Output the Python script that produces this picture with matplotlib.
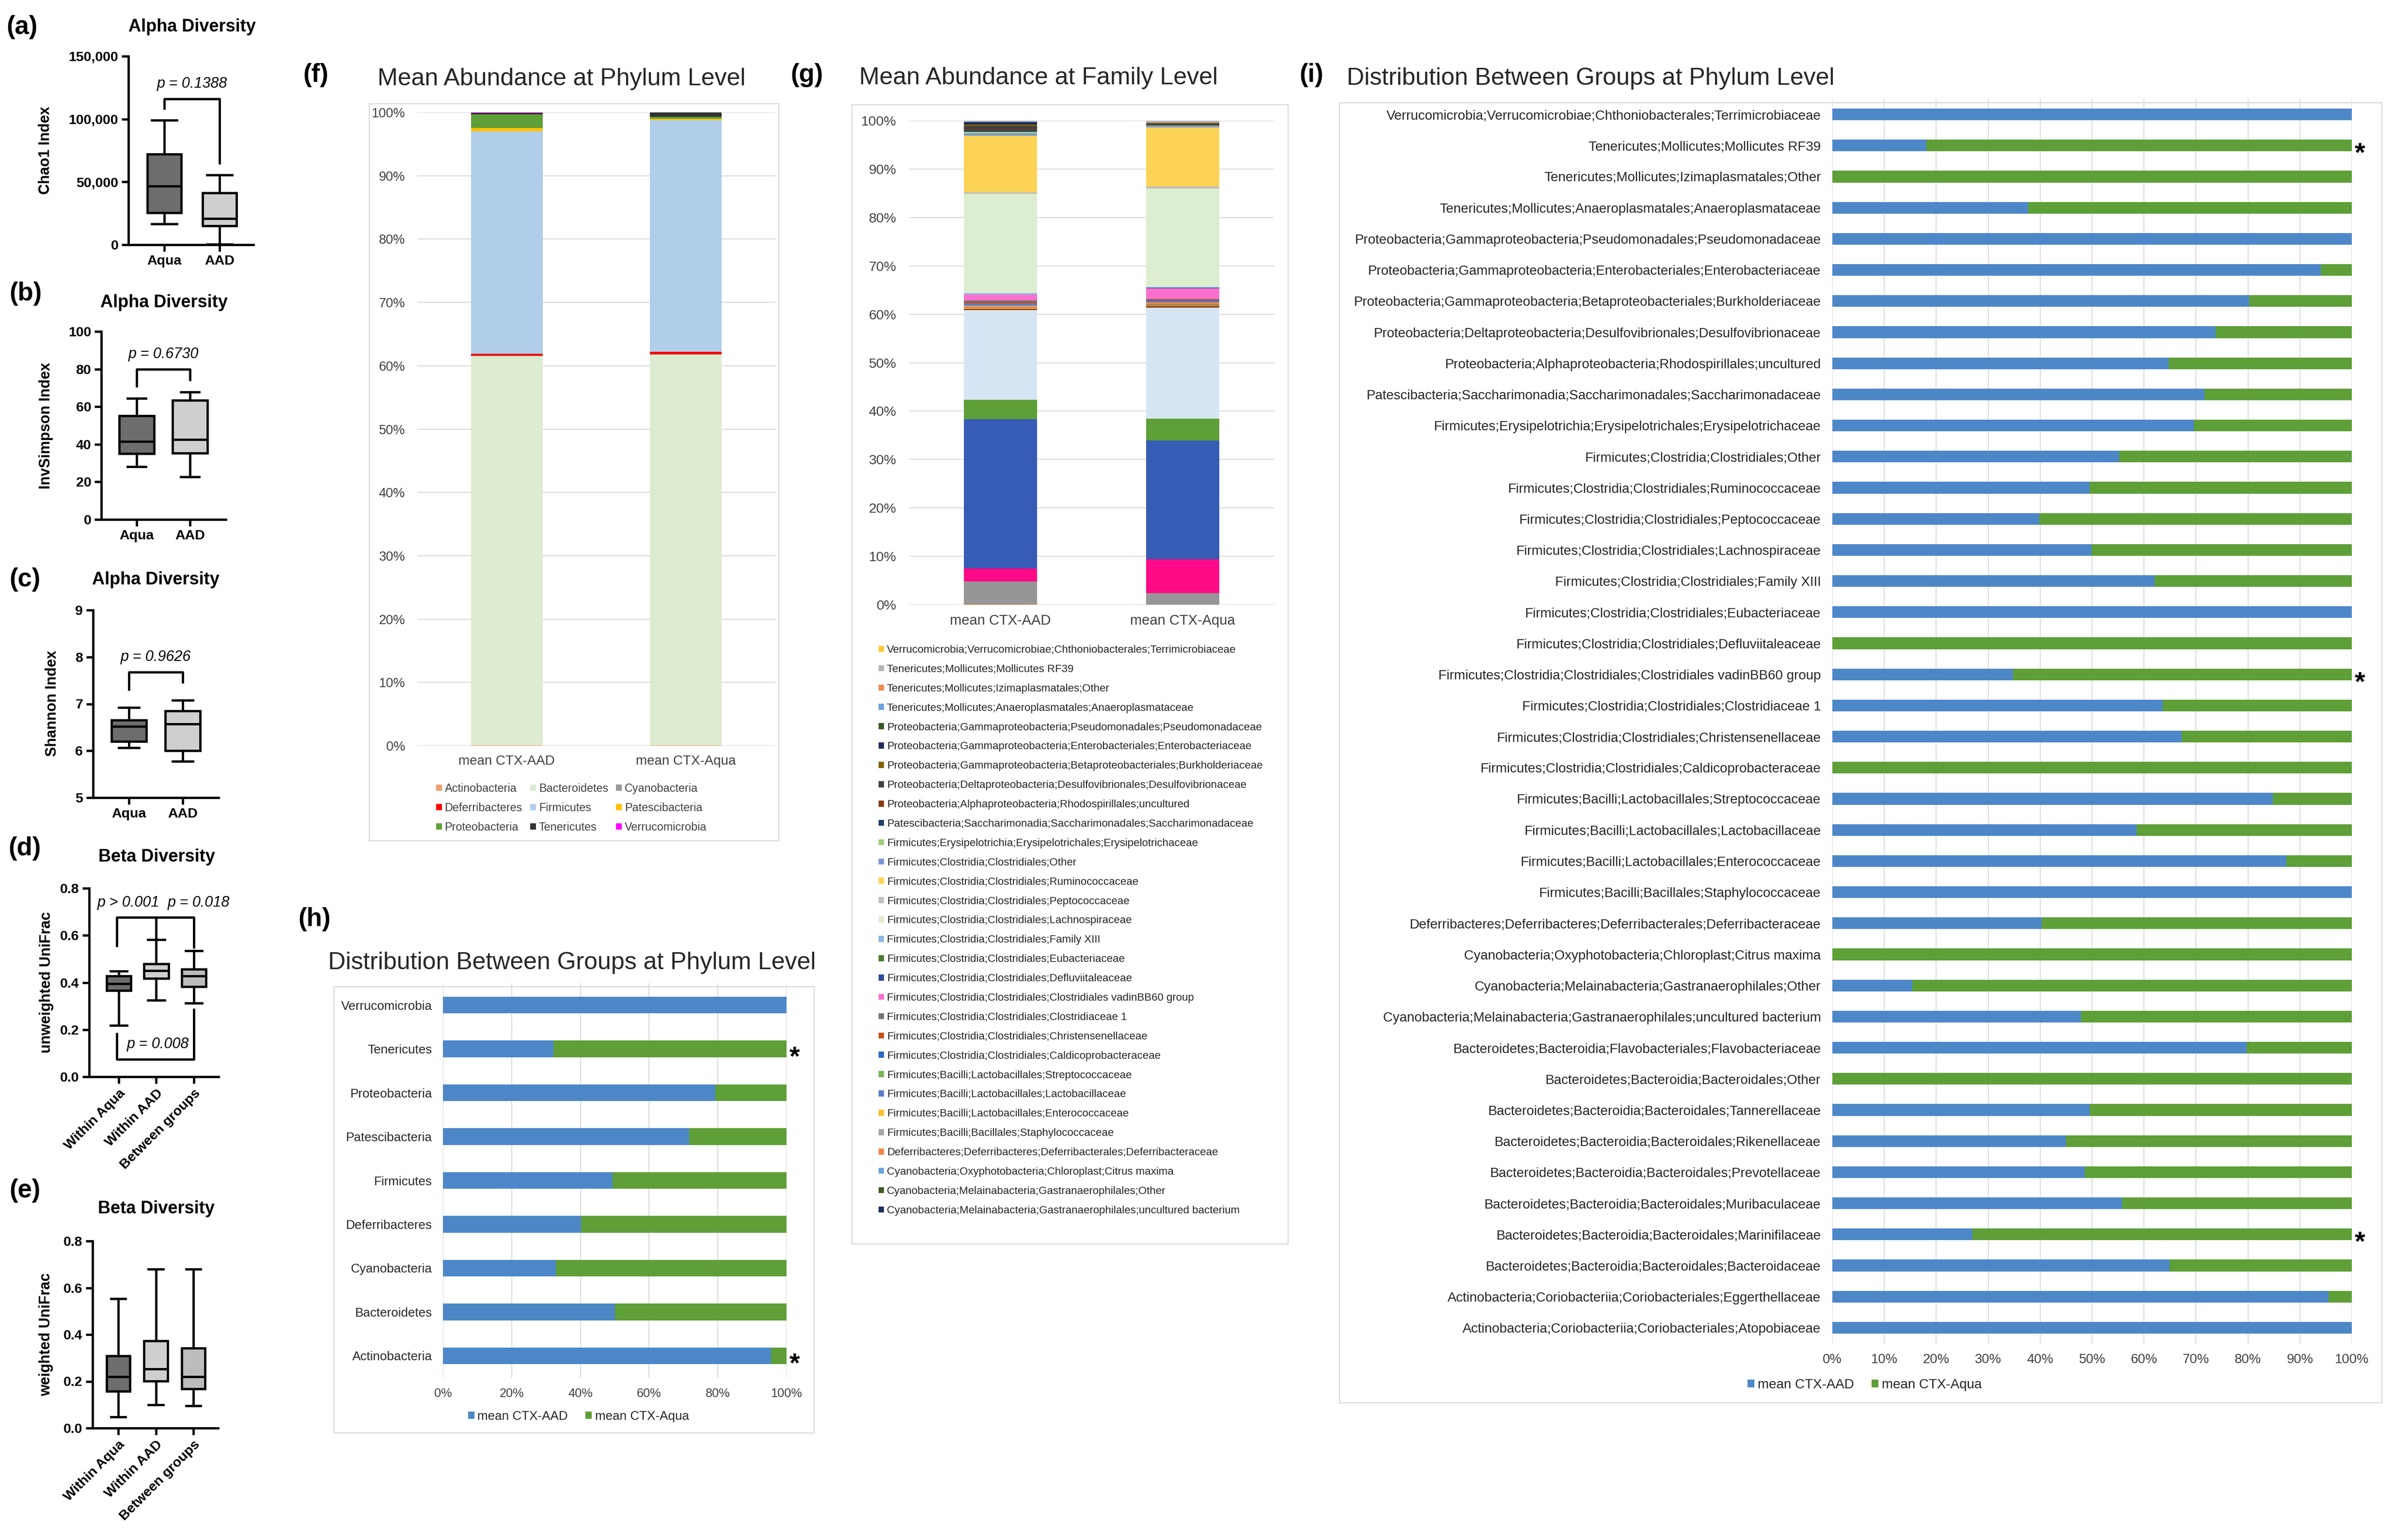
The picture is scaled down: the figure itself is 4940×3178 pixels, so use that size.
import numpy as np
import matplotlib
matplotlib.use("Agg")
import matplotlib.pyplot as plt
from matplotlib.patches import Rectangle

plt.rcParams['font.family'] = ['Liberation Sans', 'DejaVu Sans']

# ---------------------------------------------------------------
# data: alpha / beta diversity box plots (a-e)
# ---------------------------------------------------------------
alpha_groups = ['Aqua', 'AAD']
beta_groups = ['Within Aqua', 'Within AAD', 'Between groups']

# whislo, q1, median, q3, whishi
chao1 = [[16400, 25500, 46700, 72200, 99000],
         [500, 15000, 20700, 41300, 55500]]
invsimpson = [[28.2, 35.0, 41.4, 55.2, 64.5],
              [22.7, 35.3, 42.5, 63.3, 67.9]]
shannon = [[6.06, 6.20, 6.52, 6.65, 6.92],
           [5.78, 6.00, 6.57, 6.85, 7.08]]
unweighted = [[0.218, 0.366, 0.395, 0.428, 0.448],
              [0.324, 0.417, 0.451, 0.479, 0.582],
              [0.313, 0.383, 0.428, 0.457, 0.535]]
weighted = [[0.048, 0.157, 0.219, 0.309, 0.554],
            [0.100, 0.202, 0.252, 0.373, 0.679],
            [0.095, 0.167, 0.219, 0.342, 0.679]]

p_chao1 = 'p = 0.1388'
p_invsimpson = 'p = 0.6730'
p_shannon = 'p = 0.9626'
p_unw = ['p > 0.001', 'p = 0.018', 'p = 0.008']

# ---------------------------------------------------------------
# data: mean abundance at phylum level (f)
# ---------------------------------------------------------------
groups = ['mean CTX-AAD', 'mean CTX-Aqua']
phyla = ['Actinobacteria', 'Bacteroidetes', 'Cyanobacteria', 'Deferribacteres',
         'Firmicutes', 'Patescibacteria', 'Proteobacteria', 'Tenericutes',
         'Verrucomicrobia']
phylum_aad = [0.05, 61.5, 0.05, 0.3, 35.15, 0.5, 2.15, 0.25, 0.05]
phylum_aqua = [0.05, 61.7, 0.05, 0.4, 36.6, 0.2, 0.3, 0.7, 0.0]
phylum_colors = ['#f0a070', '#ddebd0', '#9a9a9a', '#ff0000', '#b0cde9',
                 '#ffc000', '#5e9f37', '#333333', '#ff00ff']

# ---------------------------------------------------------------
# data: families (g, i) -- listed top to bottom as in panel (i)
# ---------------------------------------------------------------
families = [
    'Verrucomicrobia;Verrucomicrobiae;Chthoniobacterales;Terrimicrobiaceae',
    'Tenericutes;Mollicutes;Mollicutes RF39',
    'Tenericutes;Mollicutes;Izimaplasmatales;Other',
    'Tenericutes;Mollicutes;Anaeroplasmatales;Anaeroplasmataceae',
    'Proteobacteria;Gammaproteobacteria;Pseudomonadales;Pseudomonadaceae',
    'Proteobacteria;Gammaproteobacteria;Enterobacteriales;Enterobacteriaceae',
    'Proteobacteria;Gammaproteobacteria;Betaproteobacteriales;Burkholderiaceae',
    'Proteobacteria;Deltaproteobacteria;Desulfovibrionales;Desulfovibrionaceae',
    'Proteobacteria;Alphaproteobacteria;Rhodospirillales;uncultured',
    'Patescibacteria;Saccharimonadia;Saccharimonadales;Saccharimonadaceae',
    'Firmicutes;Erysipelotrichia;Erysipelotrichales;Erysipelotrichaceae',
    'Firmicutes;Clostridia;Clostridiales;Other',
    'Firmicutes;Clostridia;Clostridiales;Ruminococcaceae',
    'Firmicutes;Clostridia;Clostridiales;Peptococcaceae',
    'Firmicutes;Clostridia;Clostridiales;Lachnospiraceae',
    'Firmicutes;Clostridia;Clostridiales;Family XIII',
    'Firmicutes;Clostridia;Clostridiales;Eubacteriaceae',
    'Firmicutes;Clostridia;Clostridiales;Defluviitaleaceae',
    'Firmicutes;Clostridia;Clostridiales;Clostridiales vadinBB60 group',
    'Firmicutes;Clostridia;Clostridiales;Clostridiaceae 1',
    'Firmicutes;Clostridia;Clostridiales;Christensenellaceae',
    'Firmicutes;Clostridia;Clostridiales;Caldicoprobacteraceae',
    'Firmicutes;Bacilli;Lactobacillales;Streptococcaceae',
    'Firmicutes;Bacilli;Lactobacillales;Lactobacillaceae',
    'Firmicutes;Bacilli;Lactobacillales;Enterococcaceae',
    'Firmicutes;Bacilli;Bacillales;Staphylococcaceae',
    'Deferribacteres;Deferribacteres;Deferribacterales;Deferribacteraceae',
    'Cyanobacteria;Oxyphotobacteria;Chloroplast;Citrus maxima',
    'Cyanobacteria;Melainabacteria;Gastranaerophilales;Other',
    'Cyanobacteria;Melainabacteria;Gastranaerophilales;uncultured bacterium',
    'Bacteroidetes;Bacteroidia;Flavobacteriales;Flavobacteriaceae',
    'Bacteroidetes;Bacteroidia;Bacteroidales;Other',
    'Bacteroidetes;Bacteroidia;Bacteroidales;Tannerellaceae',
    'Bacteroidetes;Bacteroidia;Bacteroidales;Rikenellaceae',
    'Bacteroidetes;Bacteroidia;Bacteroidales;Prevotellaceae',
    'Bacteroidetes;Bacteroidia;Bacteroidales;Muribaculaceae',
    'Bacteroidetes;Bacteroidia;Bacteroidales;Marinifilaceae',
    'Bacteroidetes;Bacteroidia;Bacteroidales;Bacteroidaceae',
    'Actinobacteria;Coriobacteriia;Coriobacteriales;Eggerthellaceae',
    'Actinobacteria;Coriobacteriia;Coriobacteriales;Atopobiaceae',
]
family_colors = [
    '#fcc62f', '#b4b4b4', '#ef8a4c', '#6fa0d8', '#375623', '#1f2d5c',
    '#7f6000', '#404040', '#843c0c', '#1f3f66', '#9fcf80', '#7b97d3',
    '#fdd357', '#c0c0c0', '#ddedd0', '#8db4e2', '#4a7a2d', '#2f4a9a',
    '#fb6fcf', '#747474', '#c4501a', '#2a6ac0', '#79b458', '#5a7dc8',
    '#fbbf2a', '#a6a6a6', '#ee8449', '#6ba3dc', '#3b5b24', '#1f2f5e',
    '#ffd966', '#636363', '#9e480e', '#d6e5f4', '#5e9f37', '#365cb5',
    '#ff0a87', '#969696', '#ed7d31', '#4472c4',
]
# mean relative abundance (%) for panel (g)
family_aad = [0.05, 0.12, 0.0, 0.1, 0.05, 0.5, 0.3, 0.7, 0.2, 0.3, 0.3, 0.5,
              11.7, 0.27, 20.5, 0.3, 0.05, 0.0, 1.2, 0.25, 0.35, 0.0, 0.03, 0.5,
              0.1, 0.02, 0.3, 0.0, 0.02, 0.05, 0.04, 0.0, 0.3, 18.6, 4.0, 30.75,
              2.7, 4.7, 0.1, 0.05]
family_aqua = [0.0, 0.4, 0.05, 0.12, 0.0, 0.04, 0.08, 0.2, 0.11, 0.12, 0.1, 0.3,
               12.2, 0.4, 20.3, 0.18, 0.0, 0.1, 2.2, 0.14, 0.17, 0.05, 0.005, 0.35,
               0.015, 0.0, 0.44, 0.02, 0.11, 0.055, 0.01, 0.1, 0.3, 23.0, 4.5, 24.5,
               7.0, 2.4, 0.005, 0.0]
# share between groups (%) for panel (i)
family_share_aad = [100, 18.1, 0, 37.7, 100, 94.0, 80.2, 73.8, 64.7, 71.6, 69.6,
                    55.2, 49.5, 39.8, 49.9, 62.0, 100, 0, 34.8, 63.6, 67.3, 0,
                    84.8, 58.6, 87.4, 100, 40.3, 0, 15.4, 47.9, 79.8, 0, 49.5,
                    45.0, 48.6, 55.8, 27.0, 64.9, 95.5, 100]
family_share_aqua = [0, 81.9, 100, 62.3, 0, 6.0, 19.8, 26.2, 35.3, 28.4, 30.4,
                     44.8, 50.5, 60.2, 50.1, 38.0, 0, 100, 65.2, 36.4, 32.7, 100,
                     15.2, 41.4, 12.6, 0, 59.7, 100, 84.6, 52.1, 20.2, 100, 50.5,
                     55.0, 51.4, 44.2, 73.0, 35.1, 4.5, 0]
family_stars = [1, 18, 36]

# ---------------------------------------------------------------
# data: share between groups at phylum level (h)
# ---------------------------------------------------------------
phyla_h = ['Verrucomicrobia', 'Tenericutes', 'Proteobacteria', 'Patescibacteria',
           'Firmicutes', 'Deferribacteres', 'Cyanobacteria', 'Bacteroidetes',
           'Actinobacteria']
share_aad_h = [100, 32.2, 79.3, 71.6, 49.4, 40.2, 32.8, 50.0, 95.5]
share_aqua_h = [0, 67.8, 20.7, 28.4, 50.6, 59.8, 67.2, 50.0, 4.5]
stars_h = [1, 8]

BLUE = '#4d87c8'
GREEN = '#5e9f37'
GRID = '#d9d9d9'
TXT = '#404040'

# ===============================================================
W, H = 4940, 3178
fig = plt.figure(figsize=(W / 100, H / 100), dpi=100)


def px_axes(x0, y0, x1, y1):
    return fig.add_axes([x0 / W, 1 - y1 / H, (x1 - x0) / W, (y1 - y0) / H])


def ftext(x, y, s, **kw):
    return fig.text(x / W, 1 - y / H, s, **kw)


def frame(x0, y0, x1, y1):
    fig.add_artist(Rectangle((x0 / W, 1 - y1 / H), (x1 - x0) / W, (y1 - y0) / H,
                             transform=fig.transFigure, fill=False,
                             edgecolor=GRID, lw=1.6))


LW = 3.4


def prism_box(box, data, labels, colors, xlim, ylim, yticks, yfmt, bw, cw, rotate=False):
    ax = px_axes(*box)
    stats = [dict(whislo=d[0], q1=d[1], med=d[2], q3=d[3], whishi=d[4], fliers=[])
             for d in data]
    bp = ax.bxp(stats, positions=range(len(data)), widths=bw, capwidths=cw,
                patch_artist=True, showfliers=False, manage_ticks=False,
                boxprops=dict(linewidth=LW, edgecolor='black'),
                medianprops=dict(color='black', linewidth=LW, solid_capstyle='butt'),
                whiskerprops=dict(linewidth=LW, color='black'),
                capprops=dict(linewidth=LW, color='black'))
    for patch, c in zip(bp['boxes'], colors):
        patch.set_facecolor(c)
    ax.set_xlim(*xlim)
    ax.set_ylim(*ylim)
    ax.set_yticks(yticks, [yfmt(v) for v in yticks])
    if rotate:
        ax.set_xticks(range(len(labels)), labels, rotation=45, ha='right',
                      rotation_mode='anchor')
    else:
        ax.set_xticks(range(len(labels)), labels)
    for s in ['top', 'right']:
        ax.spines[s].set_visible(False)
    for s in ['left', 'bottom']:
        ax.spines[s].set_linewidth(LW)
    ax.tick_params(length=10, width=LW, labelsize=20.5, pad=5)
    for t in ax.get_xticklabels() + ax.get_yticklabels():
        t.set_fontweight('bold')
    return ax


def bracket(ax, xs, ys, top):
    ax.plot([xs[0], xs[0], xs[1], xs[1]], [ys[0], top, top, ys[1]],
            color='black', lw=LW, solid_capstyle='butt', clip_on=False)


DARK, LIGHT, MID = '#6d6d6d', '#cfcfd1', '#bcbcbc'
PFONT = dict(fontsize=22, style='italic', ha='center', va='center')

# (a)
ax = prism_box((265, 116, 523, 505), chao1, alpha_groups, [DARK, LIGHT],
               (-0.649, 1.614), (0, 150000), [0, 50000, 100000, 150000],
               lambda v: f'{v:,}', 0.614, 0.45)
bracket(ax, (0, 1), (107500, 64000), 116000)
ax.text(0.5, 128000, p_chao1, **PFONT)

# (b)
ax = prism_box((209, 684, 466, 1072), invsimpson, alpha_groups, [DARK, LIGHT],
               (-0.664, 1.673), (0, 100), [0, 20, 40, 60, 80, 100],
               lambda v: f'{v}', 0.65, 0.34)
bracket(ax, (0, 1), (70.3, 73.7), 79.8)
ax.text(0.5, 88, p_invsimpson, **PFONT)

# (c)
ax = prism_box((192, 1259, 451, 1646), shannon, alpha_groups, [DARK, LIGHT],
               (-0.667, 1.667), (5, 9), [5, 6, 7, 8, 9],
               lambda v: f'{v}', 0.65, 0.38)
bracket(ax, (0, 1), (7.28, 7.44), 7.68)
ax.text(0.5, 8.0, p_shannon, **PFONT)

# (d)
ax = prism_box((184, 1833, 451, 2222), unweighted, beta_groups, [DARK, LIGHT, MID],
               (-0.787, 2.658), (0, 0.8), [0.0, 0.2, 0.4, 0.6, 0.8],
               lambda v: f'{v:.1f}', 0.65, 0.45, rotate=True)
bracket(ax, (-0.05, 2), (0.552, 0.545), 0.676)
ax.plot([1, 1], [0.676, 0.582], color='black', lw=LW, solid_capstyle='butt')
bracket(ax, (-0.05, 2), (0.188, 0.291), 0.074)
ax.text(0.26, 0.738, p_unw[0], **PFONT)
ax.text(2.13, 0.738, p_unw[1], **PFONT)
ax.text(1.04, 0.138, p_unw[2], **PFONT)

# (e)
ax = prism_box((191, 2561, 450, 2947), weighted, beta_groups, [DARK, LIGHT, MID],
               (-0.684, 2.658), (0, 0.8), [0.0, 0.2, 0.4, 0.6, 0.8],
               lambda v: f'{v:.1f}', 0.63, 0.39, rotate=True)

# titles, y labels, panel letters of the box plots
TB = dict(fontsize=26, fontweight='bold', ha='center', va='baseline')
ftext(396, 65, 'Alpha Diversity', **TB)
ftext(338, 634, 'Alpha Diversity', **TB)
ftext(321, 1206, 'Alpha Diversity', **TB)
ftext(323, 1778, 'Beta Diversity', **TB)
ftext(322, 2504, 'Beta Diversity', **TB)
YB = dict(fontsize=22, fontweight='bold', rotation=90, ha='center', va='center')
ftext(94, 310, 'Chao1 Index', **YB)
ftext(95, 878, 'InvSimpson Index', **YB)
ftext(108, 1452, 'Shannon Index', **YB)
ftext(96, 2027, 'unweighted UniFrac', **YB)
ftext(95, 2754, 'weighted UniFrac', **YB)
LB = dict(fontsize=38, fontweight='bold', ha='left', va='baseline')
for lt, x, y in [('(a)', 13, 70), ('(b)', 19, 620), ('(c)', 19, 1210),
                 ('(d)', 17, 1765), ('(e)', 19, 2471), ('(f)', 625, 169),
                 ('(g)', 1631, 169), ('(h)', 615, 1911), ('(i)', 2681, 169)]:
    ftext(x, y, lt, **LB)


# ---------------------------------------------------------------
def excel_style(ax, axis):
    for s in ax.spines.values():
        s.set_visible(False)
    ax.grid(axis=axis, color=GRID, lw=1.4)
    ax.set_axisbelow(True)
    ax.tick_params(length=0, labelcolor=TXT)


TT = dict(fontsize=36, color='#262626', ha='left', va='baseline')

# (f) mean abundance, phylum
frame(762, 214, 1607, 1735)
ftext(779, 176, 'Mean Abundance at Phylum Level', **TT)
ax = px_axes(861, 232, 1600, 1539)
bottom = np.zeros(2)
handles = []
for name, a, q, c in zip(phyla, phylum_aad, phylum_aqua, phylum_colors):
    handles.append(ax.bar([0, 1], [a, q], bottom=bottom, width=0.4, color=c, label=name))
    bottom += [a, q]
ax.set_xlim(-0.5, 1.5)
ax.set_ylim(0, 100)
ax.set_yticks(range(0, 101, 10), [f'{v}%' for v in range(0, 101, 10)])
ax.set_xticks([0, 1], groups)
excel_style(ax, 'y')
ax.tick_params(axis='y', labelsize=19.5, pad=18)
ax.tick_params(axis='x', labelsize=20, pad=14)
order = [0, 3, 6, 1, 4, 7, 2, 5, 8]
leg = ax.legend([handles[i] for i in order], [phyla[i] for i in order], ncol=3,
                loc='upper left', bbox_to_anchor=(900 / W, 1 - 1616 / H),
                bbox_transform=fig.transFigure, frameon=False, fontsize=16.8,
                handlelength=0.5, handleheight=0.5, handletextpad=0.25,
                columnspacing=0.7, labelspacing=0.73, borderpad=0, borderaxespad=0)
for t in leg.get_texts():
    t.set_color(TXT)

# (g) mean abundance, family
frame(1758, 216, 2658, 2567)
ftext(1773, 174, 'Mean Abundance at Family Level', **TT)
ax = px_axes(1876, 249, 2629, 1248)
bottom = np.zeros(2)
fam_handles = {}
for name, a, q, c in list(zip(families, family_aad, family_aqua, family_colors))[::-1]:
    fam_handles[name] = ax.bar([0, 1], [a, q], bottom=bottom, width=0.4, color=c)
    bottom += [a, q]
ax.set_xlim(-0.5, 1.5)
ax.set_ylim(0, 100)
ax.set_yticks(range(0, 101, 10), [f'{v}%' for v in range(0, 101, 10)])
ax.set_xticks([0, 1], groups)
excel_style(ax, 'y')
ax.tick_params(axis='y', labelsize=20.5, pad=19)
ax.tick_params(axis='x', labelsize=21, pad=14)
leg = ax.legend([fam_handles[n] for n in families[:30]], families[:30],
                loc='upper left', bbox_to_anchor=(1813 / W, 1 - 1331 / H),
                bbox_transform=fig.transFigure, frameon=False, fontsize=16,
                handlelength=0.5, handleheight=0.5, handletextpad=0.25,
                labelspacing=0.85, borderpad=0, borderaxespad=0)
for t in leg.get_texts():
    t.set_color('#262626')


def share_panel(box, labels, aad, aqua, stars, step, fs_y, fs_x, fs_leg,
                leg_xy, colspace, ypad):
    ax = px_axes(*box)
    n = len(labels)
    y = np.arange(n)[::-1]
    b1 = ax.barh(y, aad, height=0.38, color=BLUE)
    b2 = ax.barh(y, aqua, left=aad, height=0.38, color=GREEN)
    ax.set_ylim(-0.5, n - 0.5)
    ax.set_xlim(0, 100)
    ax.set_yticks(y, labels)
    ax.set_xticks(range(0, 101, step), [f'{v}%' for v in range(0, 101, step)])
    excel_style(ax, 'x')
    ax.tick_params(axis='y', labelsize=fs_y, pad=ypad, labelcolor='#262626')
    ax.tick_params(axis='x', labelsize=fs_x, pad=15)
    for i in stars:
        ax.annotate('*', xy=(100, y[i]), xytext=(12, -0.58 * 40),
                    textcoords='offset points', ha='center', va='baseline',
                    fontsize=40, fontweight='bold', annotation_clip=False)
    leg = ax.legend([b1, b2], groups, ncol=2, loc='center left',
                    bbox_to_anchor=(leg_xy[0] / W, 1 - leg_xy[1] / H),
                    bbox_transform=fig.transFigure, frameon=False, fontsize=fs_leg,
                    handlelength=0.5, handleheight=0.5, handletextpad=0.25,
                    columnspacing=colspace, borderpad=0, borderaxespad=0)
    for t in leg.get_texts():
        t.set_color('#262626')
    return ax


# (h) share, phylum
frame(689, 2036, 1680, 2957)
ftext(677, 2000, 'Distribution Between Groups at Phylum Level', **TT)
share_panel((914, 2029, 1623, 2843), phyla_h, share_aad_h, share_aqua_h, stars_h,
            20, 18.7, 18.3, 18.7, (966, 2923), 1.4, 16)

# (i) share, family
frame(2764, 212, 4915, 2895)
ftext(2779, 175, 'Distribution Between Groups at Phylum Level', **TT)
share_panel((3781, 204, 4853, 2772), families, family_share_aad, family_share_aqua,
            family_stars, 10, 20, 19.7, 20, (3606, 2858), 1.3, 17)

fig.savefig('out.png', dpi=100, facecolor='white')
